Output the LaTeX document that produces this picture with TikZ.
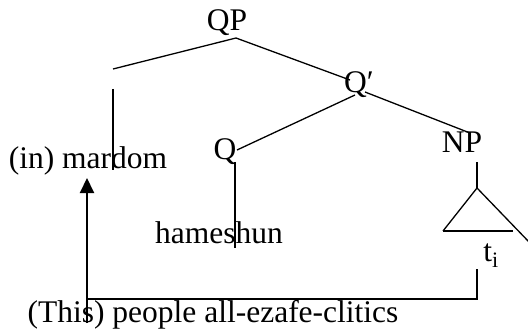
\documentclass[tikz,border=0pt]{standalone}
\usepackage{fontspec}
\setmainfont{Liberation Serif}
\usetikzlibrary{arrows.meta}

\begin{document}
\begin{tikzpicture}[x=1pt, y=-1pt]
  \tikzstyle{word}=[inner sep=0pt, anchor=base, font=\fontsize{31.5}{38}\selectfont]
  \tikzstyle{branch}=[line width=1.3pt]
  \tikzstyle{move}=[line width=2pt, -{Triangle[width=14pt,length=15pt]}]
  \useasboundingbox (0,0) rectangle (528,329);

  % labels
  \node[word] (QP) at (227,31) {QP};
  \node[word] (Qbar) at (359,93) {Q′};
  \node[word] (Q) at (225,160) {Q};
  \node[word] (NP) at (462,152) {NP};
  \node[word] (spec) at (88,168) {(in) mardom};
  \node[word] (ham) at (219,243) {hameshun};
  \node[word] (trace) at (491,261) {t\textsubscript{i}};
  \node[word] (gloss) at (213,322) {(This) people all-ezafe-clitics};

  % branch ends
  \coordinate (QP-b) at (236,38);
  \coordinate (specL) at (113,69);
  \coordinate (specT) at (113,89);
  \coordinate (specB) at (113,170);
  \coordinate (Qbar-t) at (350,80);
  \coordinate (Qbar-l) at (355,95);
  \coordinate (Qbar-r) at (365,92);
  \coordinate (Q-t) at (237,150);
  \coordinate (Q-b) at (235,162);
  \coordinate (ham-b) at (235,248);
  \coordinate (NP-l) at (470,133);
  \coordinate (NP-b) at (477,162);
  \coordinate (apex) at (477,188);
  \coordinate (triL) at (443,231);
  \coordinate (triR) at (513,231);
  \coordinate (triEnd) at (530,243);
  \coordinate (t-b) at (477,269);
  \coordinate (corner) at (477,299);
  \coordinate (bend) at (87,299);
  \coordinate (tail) at (87,323);
  \coordinate (head) at (87,178);

  \draw[branch] (QP-b) -- (specL);
  \draw[branch] (QP-b) -- (Qbar-t);
  \draw[branch] (specT) -- (specB);
  \draw[branch] (Qbar-l) -- (Q-t);
  \draw[branch] (Qbar-r) -- (NP-l);
  \draw[branch] (Q-b) -- (ham-b);
  \draw[branch] (NP-b) -- (apex);
  \draw[branch] (triL) -- (apex) -- (triEnd);
  \draw[branch] (triL) -- (triR);

  % movement of the trace
  \draw[branch] (t-b) -- (corner) -- (bend);
  \draw[move] (tail) -- (head);
\end{tikzpicture}
\end{document}
